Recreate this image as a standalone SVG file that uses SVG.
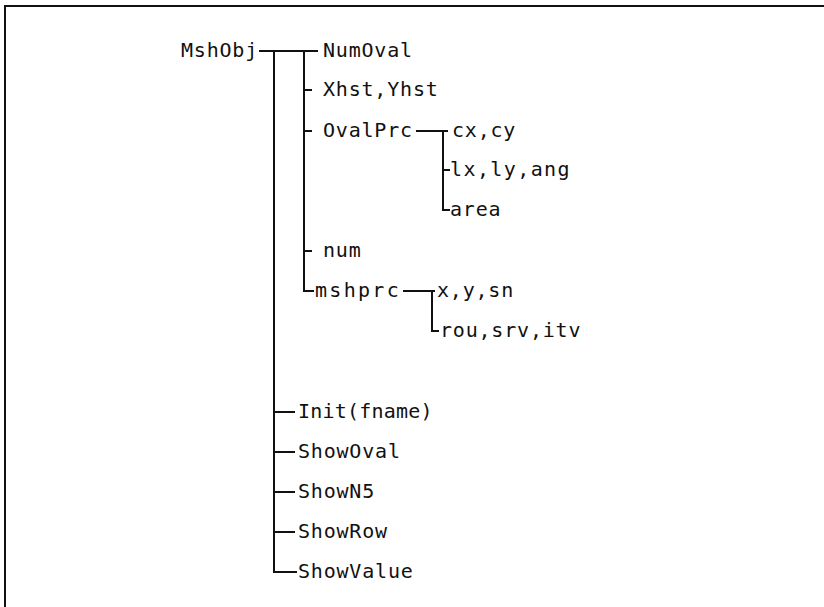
<svg xmlns="http://www.w3.org/2000/svg" width="824" height="607" viewBox="0 0 824 607">
<style>
.t{font-family:"DejaVu Sans Mono","Liberation Mono",monospace;font-size:20px;letter-spacing:0.8px;fill:#111}
.c{stroke:#111;stroke-width:2;fill:none;stroke-linecap:square}
.b{stroke:#111;stroke-width:2;fill:none}
</style>
<rect width="824" height="607" fill="#fff"/>
<g id="frame">
<path class="b" d="M5,607 V6 H824"/>
</g>
<g id="connectors">
<path class="c" d="M260,51 H317"/>
<path class="c" d="M274,51 V572 H296"/>
<path class="c" d="M304,51 V291 H313"/>
<path class="c" d="M304,90 H311"/>
<path class="c" d="M304,131 H311"/>
<path class="c" d="M304,251 H311"/>
<path class="c" d="M417,131 H447"/>
<path class="c" d="M443,131 V210 H449"/>
<path class="c" d="M443,170 H449"/>
<path class="c" d="M404,291 H434"/>
<path class="c" d="M432,291 V331 H438"/>
<path class="c" d="M274,412 H294"/>
<path class="c" d="M274,452 H294"/>
<path class="c" d="M274,492 H294"/>
<path class="c" d="M274,532 H294"/>
</g>
<g id="MshObj"><text class="t" x="181" y="57">MshObj</text></g>
<g id="NumOval"><text class="t" x="323" y="57">NumOval</text></g>
<g id="XhstYhst"><text class="t" x="323" y="96">Xhst,Yhst</text></g>
<g id="OvalPrc"><text class="t" x="323" y="137">OvalPrc</text></g>
<g id="cxcy"><text class="t" x="452" y="137">cx,cy</text></g>
<g id="lxlyang"><text class="t" x="450" y="176" style="letter-spacing:1.4px">lx,ly,ang</text></g>
<g id="area"><text class="t" x="450" y="216">area</text></g>
<g id="num"><text class="t" x="323" y="257">num</text></g>
<g id="mshprc"><text class="t" x="315" y="297" style="letter-spacing:2.3px">mshprc</text></g>
<g id="xysn"><text class="t" x="437" y="297">x,y,sn</text></g>
<g id="rousrvitv"><text class="t" x="440" y="337">rou,srv,itv</text></g>
<g id="Init"><text class="t" x="298" y="418" style="letter-spacing:0.2px">Init(fname)</text></g>
<g id="ShowOval"><text class="t" x="298" y="458">ShowOval</text></g>
<g id="ShowN5"><text class="t" x="298" y="498">ShowN5</text></g>
<g id="ShowRow"><text class="t" x="298" y="538">ShowRow</text></g>
<g id="ShowValue"><text class="t" x="298" y="578">ShowValue</text></g>
</svg>
